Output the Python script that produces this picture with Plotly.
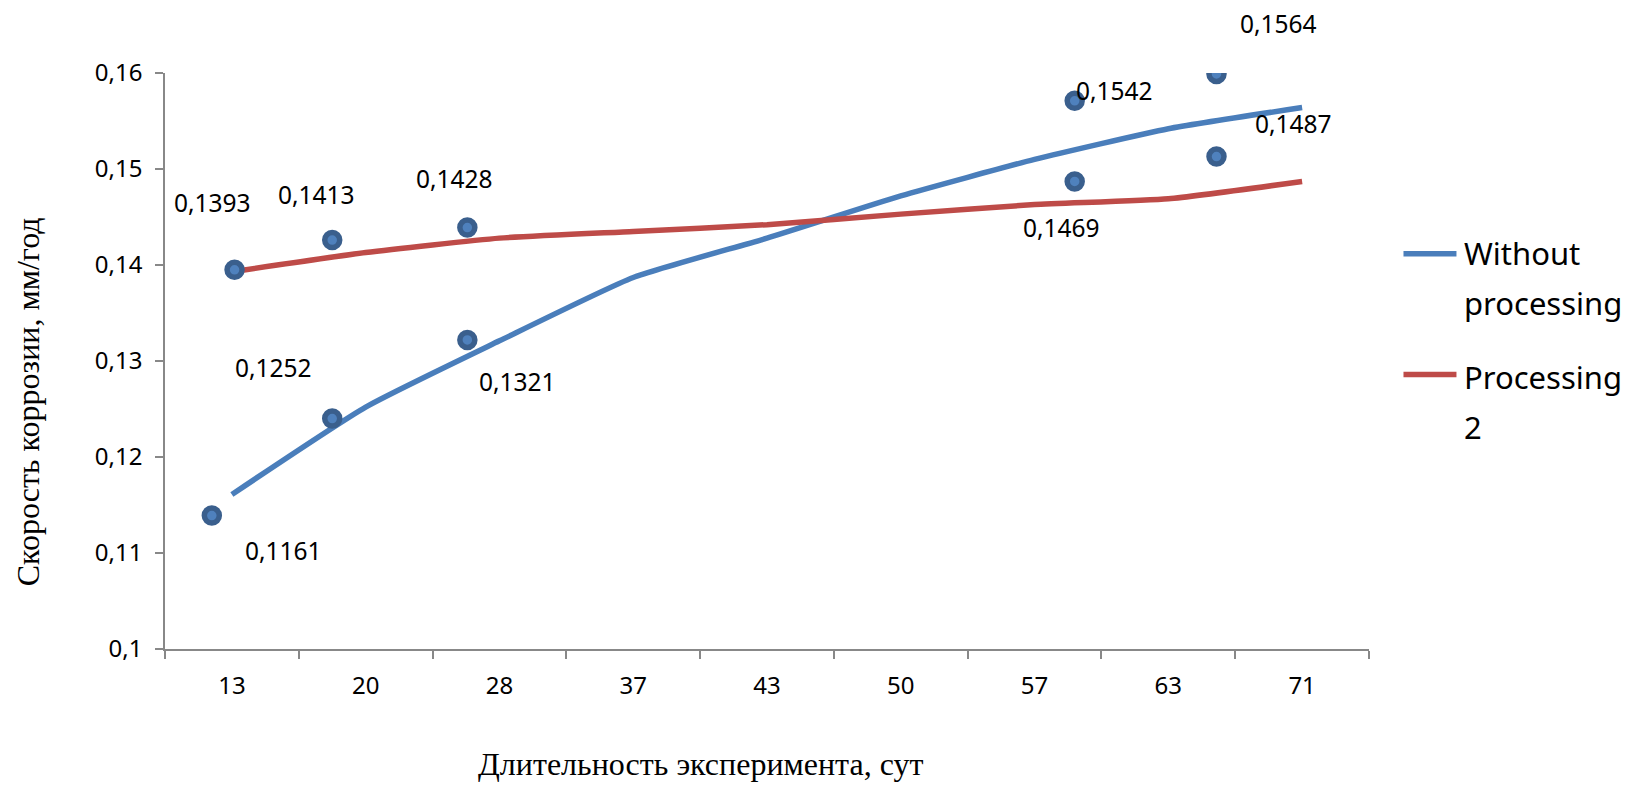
import plotly.graph_objects as go

# Experiment duration, days (category axis)
days = ["13", "20", "28", "37", "43", "50", "57", "63", "71"]

# Corrosion rate, mm/year
without_processing = [0.1161, 0.1252, 0.1321, 0.1387, 0.1428, 0.1472, 0.1510, 0.1542, 0.1564]
processing_2 = [0.1393, 0.1413, 0.1428, 0.1435, 0.1442, 0.1453, 0.1463, 0.1469, 0.1487]

# Measured points (position in category units, rate)
point_pos = [-0.15, 0.02, 0.75, 0.75, 1.76, 1.76, 6.30, 6.30, 7.36, 7.36]
point_rate = [0.1139, 0.1395, 0.1426, 0.1240, 0.1439, 0.1322, 0.1571, 0.1487, 0.1599, 0.1513]

series_names = [["Without", "processing"], ["Processing", "2"]]

# Which line vertex gets a value label, and the label offset in pixels
blue_labels = {0: (52, -56), 1: (-92, 40), 2: (18, -41), 7: (-54, 38), 8: (-24, 84)}
red_labels = {0: (-19, 69), 1: (-49, 58), 2: (-45, 60), 7: (-107, -29), 8: (-9, 58)}

BLUE = "#4A7EBB"
RED = "#BE4B48"
AXIS = "#888888"
LABEL_FONT = "Noto Sans"
TITLE_FONT = "Liberation Serif"

# plot area in pixels, used to place the legend block in paper units
PLOT_L, PLOT_R, PLOT_T, PLOT_B = 165, 1369.5, 73.3, 649.5
W, H = 1629, 786


def px_x(x):
    return (x - PLOT_L) / (PLOT_R - PLOT_L)


def px_y(y):
    return (PLOT_B - y) / (PLOT_B - PLOT_T)


idx = list(range(len(days)))

fig = go.Figure()
fig.add_trace(go.Scatter(
    x=idx, y=without_processing, mode="lines", name=" ".join(series_names[0]),
    line=dict(color=BLUE, width=5.5, shape="spline", smoothing=0.5),
    showlegend=False,
))
fig.add_trace(go.Scatter(
    x=idx, y=processing_2, mode="lines", name=" ".join(series_names[1]),
    line=dict(color=RED, width=5.5, shape="spline", smoothing=0.5),
    showlegend=False,
))
fig.add_trace(go.Scatter(
    x=point_pos, y=point_rate, mode="markers", showlegend=False,
    marker=dict(size=15, color="#4F81BD", line=dict(color="#3A5F8D", width=5.5)),
))


def fmt(v):
    return f"{v:.4f}".replace(".", ",")


annotations = []
for series, labels in ((without_processing, blue_labels), (processing_2, red_labels)):
    for i, (dx, dy) in labels.items():
        annotations.append(dict(
            x=i, y=series[i], xref="x", yref="y", text=fmt(series[i]),
            showarrow=False, xshift=dx, yshift=dy,
            font=dict(family=LABEL_FONT, size=24.5, color="#000000"),
        ))

annotations.append(dict(
    x=px_x(701), y=px_y(765), xref="paper", yref="paper",
    xanchor="center", yanchor="middle",
    text="Длительность эксперимента, сут", showarrow=False,
    font=dict(family=TITLE_FONT, size=32, color="#000000"),
))
annotations.append(dict(
    x=px_x(28), y=px_y(402.6), xref="paper", yref="paper",
    xanchor="center", yanchor="middle",
    text="Скорость коррозии, мм/год", showarrow=False, textangle=-90,
    font=dict(family=TITLE_FONT, size=32, color="#000000"),
))

# Legend: line sample plus two text rows per series
shapes = []
legend_rows = [(254, BLUE, 253, 303), (375, RED, 377, 427)]
for (line_y, color, y1, y2), words in zip(legend_rows, series_names):
    shapes.append(dict(
        type="line", xref="paper", yref="paper",
        x0=px_x(1404), x1=px_x(1457), y0=px_y(line_y), y1=px_y(line_y),
        line=dict(color=color, width=5.5), layer="above",
    ))
    for word, ty in zip(words, (y1, y2)):
        annotations.append(dict(
            x=px_x(1463), y=px_y(ty), xref="paper", yref="paper",
            xanchor="left", yanchor="middle", text=word, showarrow=False,
            font=dict(family=LABEL_FONT, size=31, color="#000000"),
        ))

fig.update_layout(
    width=W, height=H,
    margin=dict(l=PLOT_L, r=W - PLOT_R, t=PLOT_T, b=H - PLOT_B),
    paper_bgcolor="white", plot_bgcolor="white",
    separators=", ",
    showlegend=False,
    annotations=annotations,
    shapes=shapes,
)

fig.update_xaxes(
    range=[-0.5, len(days) - 0.5],
    tickmode="array", tickvals=idx, ticktext=days,
    ticks="", showgrid=False, zeroline=False,
    showline=True, linecolor=AXIS, linewidth=1.5,
    tickfont=dict(family=LABEL_FONT, size=24, color="#000000"),
    ticklabelstandoff=14,
    minor=dict(tickmode="linear", tick0=-0.5, dtick=1, ticks="outside",
               ticklen=8, tickcolor=AXIS, tickwidth=1.5, showgrid=False),
)
fig.update_yaxes(
    range=[0.1, 0.16], tickmode="linear", tick0=0.1, dtick=0.01,
    ticks="outside", ticklen=8, tickcolor=AXIS, tickwidth=1.5,
    showgrid=False, zeroline=False,
    showline=True, linecolor=AXIS, linewidth=1.5,
    tickfont=dict(family=LABEL_FONT, size=24, color="#000000"),
    ticklabelstandoff=8,
)

fig.write_html("out.html")
